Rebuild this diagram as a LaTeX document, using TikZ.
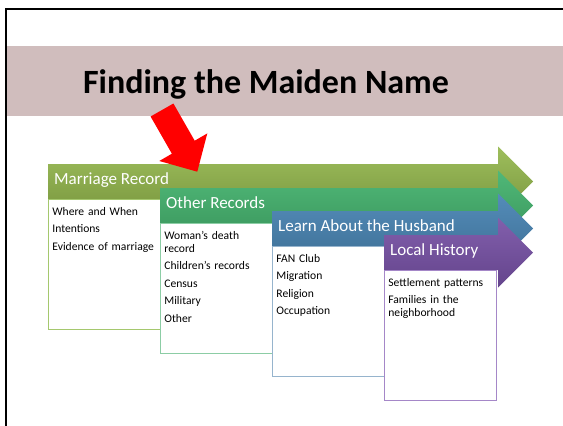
\documentclass[tikz,border=0pt]{standalone}
\usepackage{fontspec}
\setmainfont{Carlito}
\usetikzlibrary{positioning}
\hyphenpenalty=10000
\exhyphenpenalty=10000

\definecolor{bandpink}{RGB}{208,189,189}
\definecolor{olivetop}{RGB}{158,190,92}
\definecolor{olivebot}{RGB}{120,150,62}
\definecolor{oliveline}{RGB}{165,200,110}
\definecolor{greentop}{RGB}{80,184,120}
\definecolor{greenbot}{RGB}{58,150,92}
\definecolor{greenline}{RGB}{140,205,165}
\definecolor{bluetop}{RGB}{84,140,185}
\definecolor{bluebot}{RGB}{62,112,150}
\definecolor{blueline}{RGB}{150,180,205}
\definecolor{purpletop}{RGB}{130,95,172}
\definecolor{purplebot}{RGB}{100,68,140}
\definecolor{purpleline}{RGB}{165,135,200}

\begin{document}
\begin{tikzpicture}
  [x=1pt, y=-1pt,
   head/.style={anchor=north west, minimum height=35pt, inner xsep=6pt, inner ysep=0pt,
     text height=10pt, text depth=4.4pt, text=white, font=\fontsize{17}{20}\selectfont},
   list/.style={draw, line width=0.8pt, inner sep=4pt, text width=104pt, align=left,
     text height=11.5pt, text depth=110pt, font=\fontsize{11.6}{12.8}\selectfont}]
  \useasboundingbox (0,0) rectangle (563,426);
  \draw[line width=2pt] (6,426) -- (6,9) -- (563,9);
  \fill[bandpink] (7,46) rectangle (563,116);
  \node[font=\fontsize{34}{38}\selectfont\bfseries] (title) at (266,84) {Finding the Maiden Name};

  \shade[top color=olivetop, bottom color=olivebot] (48,164) -- (498,164) -- (498,146.5)
    -- (533,181.5) -- (498,216.5) -- (498,199) -- (48,199) -- cycle;
  \node[head] (marr) at (48,164) {Marriage Record};
  \node[list, draw=oliveline, below=0pt of marr.south west, anchor=north west] (marrlist)
    {Where and When\\[4.7pt] Intentions\\[4.7pt] Evidence of marriage};

  \shade[top color=greentop, bottom color=greenbot] (160,188) -- (498,188) -- (498,170.5)
    -- (533,205.5) -- (498,240.5) -- (498,223) -- (160,223) -- cycle;
  \node[head] (other) at (160,188) {Other Records};
  \node[list, draw=greenline, below=0pt of other.south west, anchor=north west] (otherlist)
    {Woman's death record\\[4.7pt] Children's records\\[4.7pt] Census\\[4.7pt] Military\\[4.7pt] Other};

  \shade[top color=bluetop, bottom color=bluebot] (272,211) -- (498,211) -- (498,193.5)
    -- (533,228.5) -- (498,263.5) -- (498,246) -- (272,246) -- cycle;
  \node[head] (husb) at (272,211) {Learn About the Husband};
  \node[list, draw=blueline, below=0pt of husb.south west, anchor=north west] (husblist)
    {FAN Club\\[4.7pt] Migration\\[4.7pt] Religion\\[4.7pt] Occupation};

  \shade[top color=purpletop, bottom color=purplebot] (384,235) -- (498,235) -- (498,217.5)
    -- (533,252.5) -- (498,287.5) -- (498,270) -- (384,270) -- cycle;
  \node[head] (local) at (384,235) {Local History};
  \node[list, draw=purpleline, below=0pt of local.south west, anchor=north west] (locallist)
    {Settlement patterns\\[4.7pt] Families in the neighborhood};

  \fill[red] (150.6,116.5) -- (171.9,153.7) -- (159.3,161.0) -- (197.3,171.7)
    -- (207.3,133.4) -- (194.7,140.7) -- (173.4,103.5) -- cycle;
\end{tikzpicture}
\end{document}
